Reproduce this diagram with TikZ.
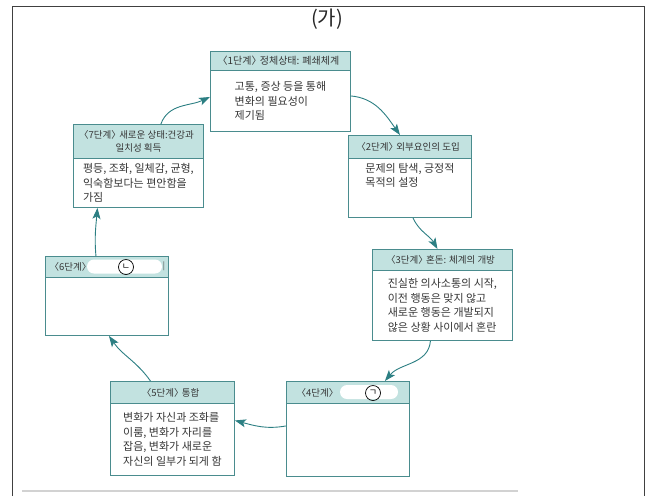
\documentclass[tikz,border=0pt]{standalone}
\usepackage{fontspec}
\setmainfont{Noto Sans CJK KR}
\usetikzlibrary{arrows.meta}
\definecolor{boxline}{HTML}{4A8C8E}
\definecolor{hdrfill}{HTML}{C2E2E0}
\definecolor{arrowc}{HTML}{2C7F83}
\definecolor{txt}{HTML}{363636}
\newcommand{\stg}[1]{\hspace{-0.4em}〈#1단계〉\hspace{-0.4em}}

\begin{document}
\begin{tikzpicture}[x=1pt, y=-1pt,
    hdr/.style={rectangle, draw=boxline, line width=0.9pt, fill=hdrfill, anchor=north west, inner sep=1pt, text=txt, font=\fontsize{9.5}{12.5}\selectfont, align=center},
    bdy/.style={rectangle, draw=boxline, line width=0.9pt, fill=white, anchor=north west, inner sep=2pt, text=txt, font=\fontsize{11}{14.5}\selectfont, align=left},
    cyc/.style={draw=arrowc, line width=0.9pt, -{Stealth[length=11pt, width=8pt, inset=2.5pt]}},
    blob/.style={rectangle, fill=white, rounded corners=7pt, inner sep=0pt},
    circmark/.style={circle, draw=black, line width=0.7pt, minimum size=15pt, inner sep=0pt, font=\fontsize{9}{9}\selectfont}]
    \useasboundingbox (0,0) rectangle (652,496);

    % frame and title
    \draw[line width=0.9pt, black!75] (12,496) -- (12,6) -- (644,6) -- (644,496);
    \draw[line width=2pt, gray!35] (22,491) -- (518,491);
    \node[font=\fontsize{20}{24}\selectfont, text=black!85] (title) at (327,19) {(가)};

    % stages
    \node[hdr, minimum width=140pt, minimum height=19pt, font=\fontsize{10}{12.5}\selectfont] (h1) at (210,51) {\stg{1} 정체상태: 폐쇄체계};
    \node[bdy, minimum width=140pt, minimum height=61pt] (b1) at (210,70) {고통, 증상 등을 통해\\변화의 필요성이\\제기됨};

    \node[hdr, minimum width=123pt, minimum height=23pt] (h2) at (348,135) {\stg{2} 외부요인의 도입};
    \node[bdy, minimum width=123pt, minimum height=59pt] (b2) at (348,158) {문제의 탐색, 긍정적\\목적의 설정\\[12pt]};

    \node[hdr, minimum width=140pt, minimum height=21pt] (h3) at (372,249) {\stg{3} 혼돈: 체계의 개방};
    \node[bdy, minimum width=140pt, minimum height=70pt] (b3) at (372,270) {진실한 의사소통의 시작,\\이전 행동은 맞지 않고\\새로운 행동은 개발되지\\않은 상황 사이에서 혼란};

    \node[hdr, minimum width=123pt, minimum height=22pt, text width=119pt, align=left] (h4) at (286,381) {\hspace{12pt}\stg{4}};
    \node[bdy, minimum width=123pt, minimum height=73pt] (b4) at (286,403) {};

    \node[hdr, minimum width=124pt, minimum height=22pt] (h5) at (110,381) {\stg{5} 통합};
    \node[bdy, minimum width=124pt, minimum height=72pt] (b5) at (110,403) {변화가 자신과 조화를\\이룸, 변화가 자리를\\잡음, 변화가 새로운\\자신의 일부가 되게 함};

    \node[hdr, minimum width=123pt, minimum height=21pt, text width=119pt, align=left] (h6) at (45,256) {\hspace{6pt}\stg{6}};
    \node[bdy, minimum width=123pt, minimum height=58pt] (b6) at (45,277) {};

    \node[hdr, minimum width=130pt, minimum height=34pt] (h7) at (73,124) {\stg{7} 새로운 상태:건강과\\일치성 획득};
    \node[bdy, minimum width=130pt, minimum height=49pt] (b7) at (73,158) {평등, 조화, 일체감, 균형,\\익숙함보다는 편안함을\\가짐};

    % blanks
    \node[blob, minimum width=75pt, minimum height=14pt] (blob6) at (124.5,266.5) {};
    \node[circmark] (m6) at (126,267) {ㄴ};
    \node[font=\fontsize{8}{8}\selectfont, text=black!70] (tick6) at (164,266) {|};
    \node[blob, minimum width=58pt, minimum height=14pt] (blob4) at (369,392) {};
    \node[circmark] (m4) at (373,393) {ㄱ};

    % cycle
    \draw[cyc] ([xshift=-43pt]h7.north east) to[out=70, in=205] ([yshift=4pt]b1.west);
    \draw[cyc] ([yshift=5pt]b1.east) to[out=-5, in=125] ([xshift=-10pt]h2.north);
    \draw[cyc] ([xshift=3pt]b2.south) to[out=-65, in=120] ([xshift=-5pt]h3.north);
    \draw[cyc] ([xshift=-12pt]b3.south) to[out=-95, in=50] ([xshift=-25pt]h4.north east);
    \draw[cyc] ([yshift=14pt]b4.west) to[out=190, in=-15] ([yshift=19pt]b5.east);
    \draw[cyc] ([xshift=-22pt]h5.north) to[out=125, in=-55] ([xshift=2pt]b6.south);
    \draw[cyc] ([xshift=-11pt]h6.north) to[out=95, in=-95] ([xshift=-41pt]b7.south);
\end{tikzpicture}
\end{document}
